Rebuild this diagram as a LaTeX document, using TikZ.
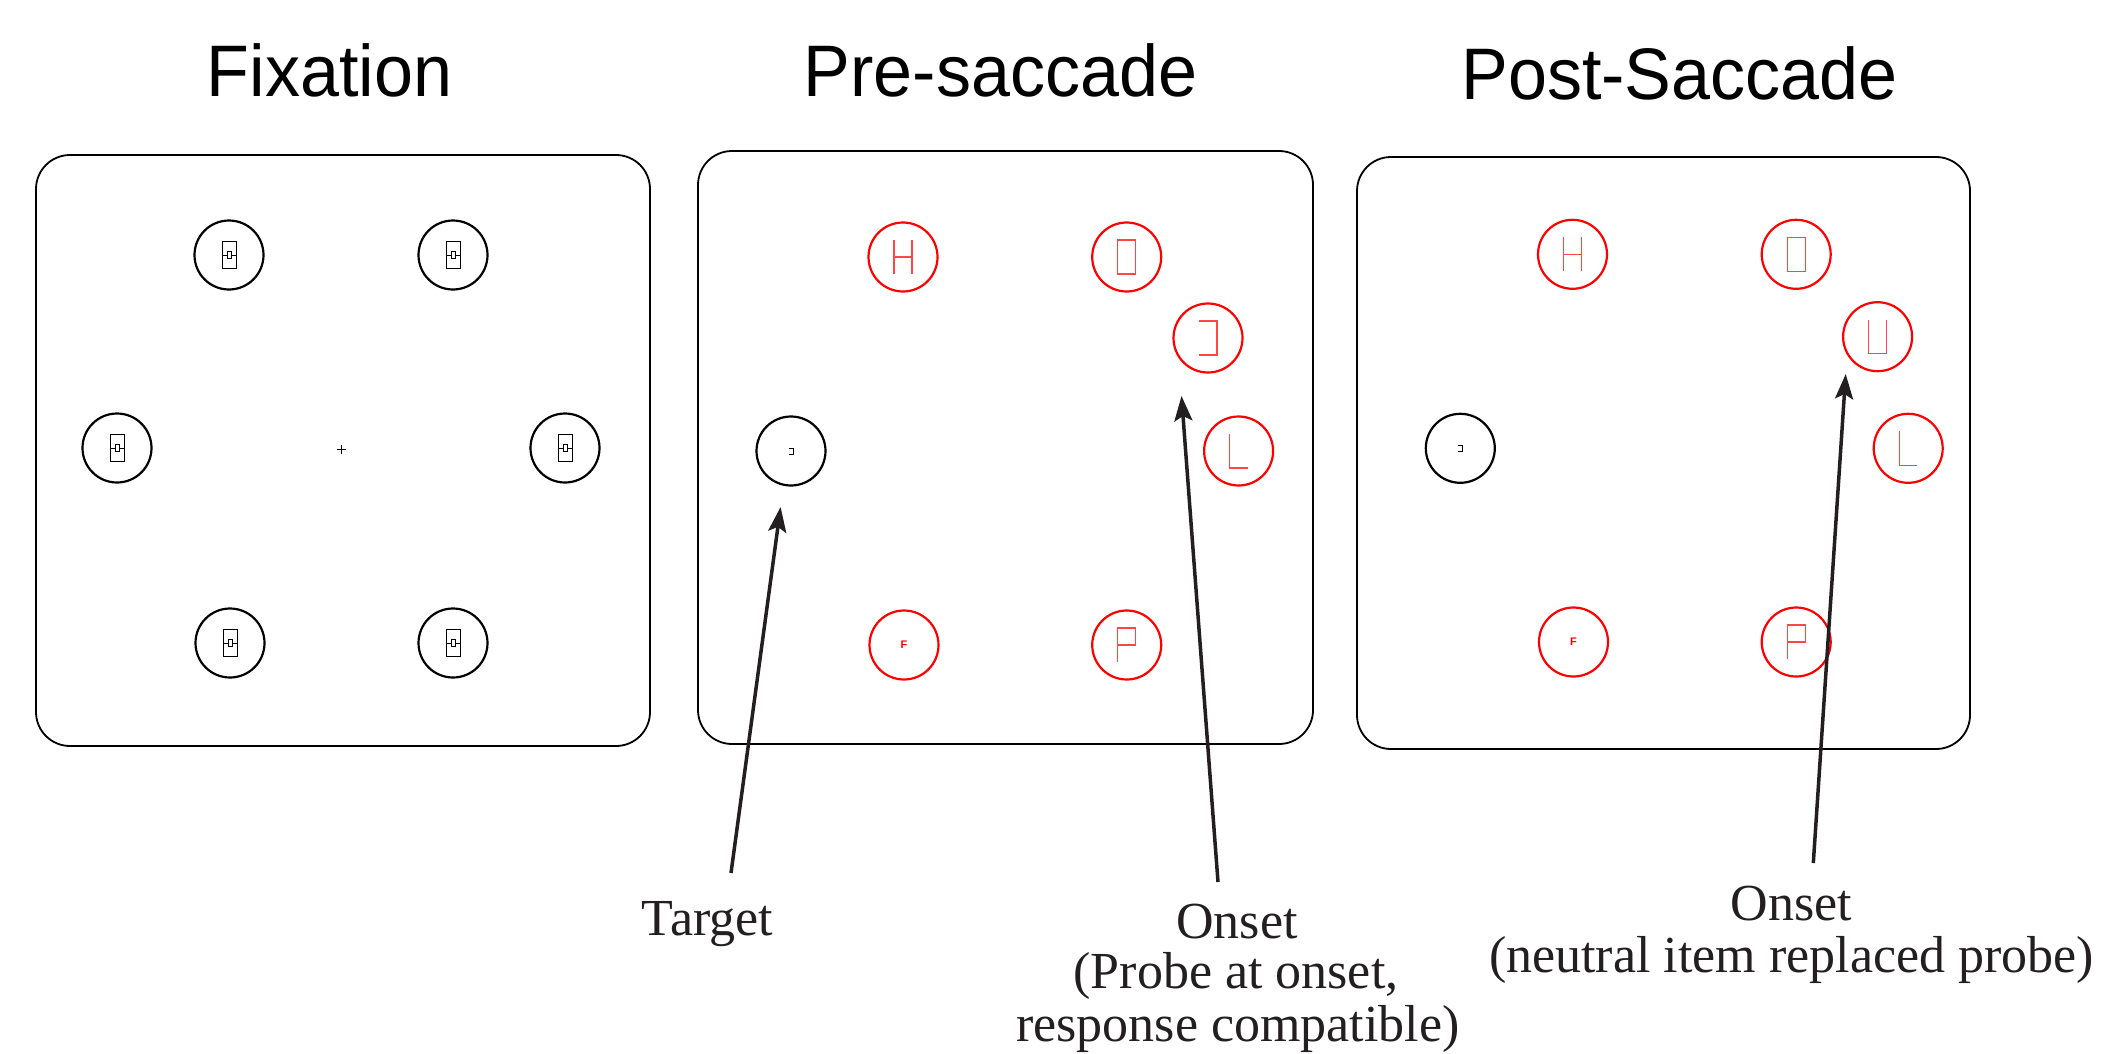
\documentclass[tikz,border=0pt]{standalone}
\usepackage{fontspec}
\setmainfont{Liberation Serif}
\newfontfamily\titlefont[FakeStretch=0.96]{Liberation Sans}
\newfontfamily\markfont{Liberation Sans}
\usetikzlibrary{arrows.meta}

\definecolor{ink}{RGB}{35,31,32}
\definecolor{probe}{RGB}{255,0,0}
\definecolor{probestroke}{RGB}{255,70,70}

\tikzset{
  panel/.style={draw=black, line width=1.8pt, rounded corners=34pt},
  ring/.style={circle, draw=black, line width=2.2pt, minimum size=69pt, inner sep=0pt},
  redring/.style={ring, draw=probe},
  glyph/.style={draw=probestroke, line width=1.2pt},
  thinmark/.style={draw=black, line width=0.9pt},
  title/.style={font=\titlefont\fontsize{73}{80}\selectfont, anchor=base, inner sep=0pt},
  caption/.style={font=\fontsize{52}{60}\selectfont, anchor=base, inner sep=0pt, text=ink},
  pointer/.style={draw=ink, line width=3.5pt, -{Stealth[length=25pt, width=18pt, inset=5pt]}},
  pics/placeholder/.style={code={
    \draw[thinmark] (-7,-13.5) rectangle (7,13.5);
    \draw[thinmark] (-7,0) -- (7,0);
    \draw[thinmark, fill=white] (-2,-3.5) rectangle (2,3.5);
  }},
  pics/letterH/.style={code={\draw[glyph] (-9,-17) -- (-9,17) (9,-17) -- (9,17) (-9,0) -- (9,0);}},
  pics/letterO/.style={code={\draw[glyph] (-9,-17) rectangle (9,17);}},
  pics/letterJ/.style={code={\draw[glyph] (-9,-17) -- (9,-17) -- (9,17) -- (-9,17);}},
  pics/letterU/.style={code={\draw[glyph] (-9,-17) -- (-9,17) -- (9,17) -- (9,-17);}},
  pics/letterL/.style={code={\draw[glyph] (-9,-17) -- (-9,17) -- (9,17);}},
  pics/letterP/.style={code={\draw[glyph] (-9,17) -- (-9,-17) -- (9,-17) -- (9,0) -- (-9,0);}},
  pics/targetmark/.style={code={\draw[line width=1pt] (-2,-3) -- (2,-3) -- (2,3) -- (-2,3);}},
}

\begin{document}
\begin{tikzpicture}[x=1pt, y=-1pt]
\useasboundingbox (0,0) rectangle (2109,1054);

% ---------- titles ----------
\node[title] (tFix)  at (329.5,97)  {Fixation};
\node[title] (tPre)  at (1000.5,97) {Pre-saccade};
\node[title] (tPost) at (1679.5,100) {Post-Saccade};

% ---------- display frames ----------
\draw[panel] (36,155) rectangle (650,746);
\draw[panel] (698,151) rectangle (1313,744);
\draw[panel] (1357,157) rectangle (1970,749);

% ---------- fixation display ----------
\foreach \n/\x/\y in {fa/229/255, fb/453/255, fc/117/448, fd/565/448, fe/230/643, ff/453/643}{
  \node[ring] (\n) at (\x,\y) {};
  \pic at (\n) {placeholder};
}
\draw[line width=1pt] (336.5,449) -- (345.5,449) (341,444.5) -- (341,453.5);

% ---------- pre-saccade display ----------
\node[redring] (aH) at (903,257) {};   \pic at (aH) {letterH};
\node[redring] (aO) at (1126.7,257) {}; \pic at (aO) {letterO};
\node[redring] (aJ) at (1208,338) {};  \pic at (aJ) {letterJ};
\node[ring]    (aT) at (791,451) {};   \pic at (aT) {targetmark};
\node[redring] (aL) at (1238.6,451) {}; \pic at (aL) {letterL};
\node[redring] (aF) at (904,645) {};
\node[font=\markfont\bfseries\fontsize{11}{11}\selectfont, text=probe, inner sep=0pt] (aFt) at (aF) {F};
\node[redring] (aP) at (1126.7,645) {}; \pic at (aP) {letterP};

% ---------- post-saccade display ----------
\node[redring] (bH) at (1572.5,254.3) {}; \pic at (bH) {letterH};
\node[redring] (bO) at (1796.2,254.3) {}; \pic at (bO) {letterO};
\node[redring] (bU) at (1877.6,336.7) {}; \pic at (bU) {letterU};
\node[ring]    (bT) at (1460.3,448.3) {}; \pic at (bT) {targetmark};
\node[redring] (bL) at (1908.2,448.3) {}; \pic at (bL) {letterL};
\node[redring] (bF) at (1573.5,642) {};
\node[font=\markfont\bfseries\fontsize{11}{11}\selectfont, text=probe, inner sep=0pt] (bFt) at (bF) {F};
\node[redring] (bP) at (1796.2,642) {}; \pic at (bP) {letterP};

% ---------- captions ----------
\node[caption] (capTarget) at (707.5,935) {Target};
\node[caption] (capOnA)  at (1237,938)  {Onset};
\node[caption] (capOnA1) at (1236,988)  {(Probe at onset,};
\node[caption] (capOnA2) at (1238,1041) {response compatible)};
\node[caption] (capOnB)  at (1791.5,920) {Onset};
\node[caption] (capOnB1) at (1791.5,972) {(neutral item replaced probe)};

% ---------- pointers ----------
\coordinate (tgtTail) at (731,873);
\coordinate (tgtTip)  at (780.6,507);
\coordinate (onATail) at (1218,882);
\coordinate (onATip)  at (1181.5,396);
\coordinate (onBTail) at (1813.3,863);
\coordinate (onBTip)  at (1845.7,374);
\draw[pointer] (tgtTail) -- (tgtTip);
\draw[pointer] (onATail) -- (onATip);
\draw[pointer] (onBTail) -- (onBTip);
\end{tikzpicture}
\end{document}
